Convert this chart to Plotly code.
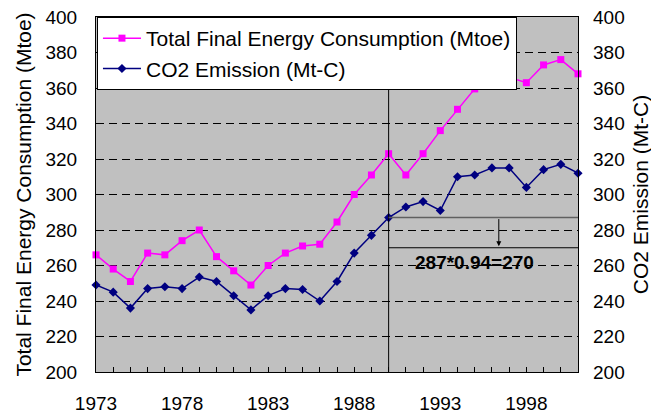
import plotly.graph_objects as go

years = list(range(1973, 2002))
label_years = [1973, 1978, 1983, 1988, 1993, 1998]

# Total Final Energy Consumption (Mtoe)
tfec = [266, 258, 251, 267, 266, 274, 280, 265, 257, 249,
        260, 267, 271, 272, 284.5, 300, 311, 323,
        311, 323, 336, 348, 359.5, 364, 366, 363, 373, 376, 368]
# CO2 Emission (Mt-C)
co2 = [249, 245, 236, 247, 248, 247, 253.5, 251, 243, 235,
       243, 247, 246.5, 240, 251, 267, 277, 287,
       293, 296, 291, 310, 311, 315, 315, 304, 314, 317, 312]

ref_year = 1990
factor = 0.94
base = co2[years.index(ref_year)]
target = round(base * factor)
line_top = 368

FONT = "Liberation Sans, Arial, sans-serif"

fig = go.Figure()
fig.add_trace(go.Scatter(x=years, y=tfec, name="Total Final Energy Consumption (Mtoe)",
                         mode="lines+markers", cliponaxis=False,
                         line=dict(color="#FF00FF", width=1.5),
                         marker=dict(symbol="square", size=7, color="#FF00FF")))
fig.add_trace(go.Scatter(x=years, y=co2, name="CO2 Emission (Mt-C)", yaxis="y2",
                         mode="lines+markers", cliponaxis=False,
                         line=dict(color="#000080", width=1.5),
                         marker=dict(symbol="diamond", size=7, color="#000080")))

# 1990 reference line and the -6% target
fig.add_shape(type="line", x0=ref_year, x1=ref_year, y0=200, y1=line_top,
              line=dict(color="black", width=1))
fig.add_shape(type="line", x0=ref_year, x1=years[-1], y0=base, y1=base,
              line=dict(color="#606060", width=1.5))
fig.add_shape(type="line", x0=ref_year, x1=years[-1], y0=target, y1=target,
              line=dict(color="black", width=1))
fig.add_annotation(x=1996.4, y=target + 0.8, ax=1996.4, ay=base, xref="x", yref="y",
                   axref="x", ayref="y", text="", showarrow=True,
                   arrowhead=2, arrowsize=1, arrowwidth=1, arrowcolor="black")
fig.add_annotation(x=1995, y=261.5, xref="x", yref="y", showarrow=False,
                   text=f"<b>{base}*{factor}={target}</b>",
                   font=dict(size=19, color="black", family=FONT))

# page body has an 8px margin, so the figure is sized to fit the window
fig.update_layout(
    width=651, height=409,
    margin=dict(l=88, r=81, t=9, b=45, autoexpand=False),
    paper_bgcolor="white", plot_bgcolor="#C0C0C0",
    font=dict(family=FONT, size=19, color="black"),
    showlegend=True,
    legend=dict(x=0.002, y=1, xanchor="left", yanchor="top",
                bgcolor="white", bordercolor="black", borderwidth=1,
                font=dict(size=21), tracegroupgap=0, itemwidth=38),
    xaxis=dict(range=[years[0], years[-1]], tickvals=label_years, automargin=False,
               ticks="inside", ticklen=5, tickcolor="black",
               minor=dict(ticks="inside", dtick=1, tick0=years[0], ticklen=5, tickcolor="black"),
               showgrid=False, zeroline=False, showline=True, mirror=True,
               linecolor="black", linewidth=1, ticklabelstandoff=14),
    yaxis=dict(range=[200, 400], dtick=20, showgrid=True, gridcolor="black",
               griddash="8px,5px", gridwidth=1, zeroline=False, automargin=False,
               showline=True, mirror=True, linecolor="black", linewidth=1,
               ticks="inside", ticklen=4, tickcolor="black", ticklabelstandoff=14,
               ticklabeloverflow="allow",
               title=dict(text="Total Final Energy Consumption (Mtoe)",
                          font=dict(size=21), standoff=8)),
    yaxis2=dict(range=[200, 400], dtick=20, overlaying="y", side="right",
                showgrid=False, zeroline=False, showline=False, automargin=False,
                ticks="", ticklabelstandoff=14, ticklabeloverflow="allow",
                title=dict(text="CO2 Emission (Mt-C)", font=dict(size=21), standoff=9)),
)

fig.write_html("out.html")
